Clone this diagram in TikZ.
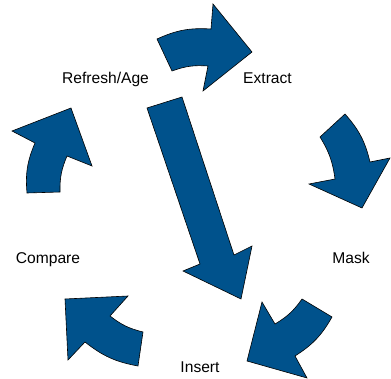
\documentclass[tikz,border=0pt]{standalone}
\usepackage{fontspec}
\setmainfont{Liberation Sans}
\begin{document}
\begin{tikzpicture}[x=1pt,y=-1pt,
  arr/.style={fill={rgb,255:red,0;green,82;blue,140},draw=black,line width=0.6pt,line join=miter},
  lbl/.style={font=\fontsize{15.6}{18}\selectfont,anchor=base,inner sep=0pt}]
\useasboundingbox (0,0) rectangle (391,379);
% arrow 1: Refresh/Age -> Extract
\path[arr] (157,39) to[bend left=14] (211,29) -- (213,4) -- (252,52) -- (203,91) -- (208,66) to[bend right=12] (172,71) -- cycle;
% arrow 2: Extract -> Mask
\path[arr] (345,114) to[bend left=14] (370,162) -- (390,158) -- (362,208) -- (309,184) -- (335,179) to[bend right=12] (320,137) -- cycle;
% arrow 3: Mask -> Insert
\path[arr] (332,317) to[bend left=14] (295,356) -- (307,378) -- (247,361) -- (262,302) -- (275,324) to[bend right=12] (302,299) -- cycle;
% arrow 4: Insert -> Compare
\path[arr] (138,366) to[bend left=14] (85,342) -- (68,360) -- (65,299) -- (128,296) -- (110,316) to[bend right=12] (143,332) -- cycle;
% arrow 5: Compare -> Refresh/Age
\path[arr] (27,193) to[bend left=14] (35,143) -- (12,131) -- (71,108) -- (92,166) -- (67,156) to[bend right=12] (60,192) -- cycle;
% big arrow
\path[arr] (147,108) -- (182,97) -- (234,255) -- (252,246) -- (241,299) -- (183,271) -- (200,264) -- cycle;
% labels
\node[lbl] (refresh) at (105.5,84) {Refresh/Age};
\node[lbl] (extract) at (267.5,84) {Extract};
\node[lbl] (mask) at (351,264) {Mask};
\node[lbl] (insert) at (200,372) {Insert};
\node[lbl] (compare) at (48,264) {Compare};
\end{tikzpicture}
\end{document}
